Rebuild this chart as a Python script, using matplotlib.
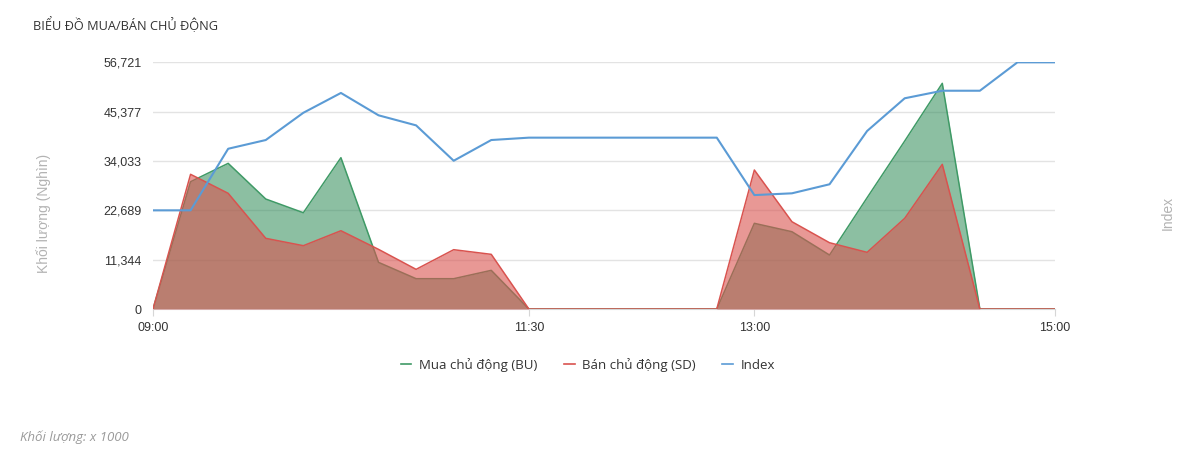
import numpy as np
import matplotlib
matplotlib.use('Agg')
import matplotlib.pyplot as plt
from matplotlib.ticker import FixedLocator

# data (volume in thousands, 15-minute buckets)
times = ['09:00', '09:15', '09:30', '09:45', '10:00', '10:15', '10:30', '10:45',
         '11:00', '11:15', '11:30', '11:45', '12:00', '12:15', '12:30', '12:45',
         '13:00', '13:15', '13:30', '13:45', '14:00', '14:15', '14:30', '14:45', '15:00']
buy_active = [0, 29270, 33490, 25290, 22140, 34790, 10730, 6970,
              6970, 8890, 0, 0, 0, 0, 0, 0,
              19700, 17770, 12410, 25590, 38620, 51890, 0, 0, 0]
sell_active = [0, 30970, 26600, 16250, 14560, 18000, 13720, 9120,
               13640, 12570, 0, 0, 0, 0, 0, 0,
               31960, 20070, 15240, 13030, 20850, 33260, 0, 0, 0]
index_vals = [1240.00, 1240.00, 1244.16, 1244.75, 1246.59, 1247.93, 1246.42, 1245.74,
              1243.35, 1244.75, 1244.91, 1244.91, 1244.91, 1244.91, 1244.91, 1244.91,
              1241.03, 1241.15, 1241.76, 1245.36, 1247.57, 1248.08, 1248.08, 1250.00, 1250.00]
xtick_labels = ['09:00', '11:30', '13:00', '15:00']
ytick_vals = [0, 11344, 22689, 34033, 45377, 56721]
ytick_labels = ['0', '11,344', '22,689', '34,033', '45,377', '56,721']

def to_min(t):
    h, m = t.split(':')
    return int(h) * 60 + int(m) - 540

x = np.array([to_min(t) for t in times])

green = '#3f9a66'
red = '#d9534f'
blue = '#5b9bd5'
txt = '#333333'

plt.rcParams['font.family'] = ['Open Sans', 'DejaVu Sans']

fig = plt.figure(figsize=(12, 4.76), dpi=100)
ax = fig.add_axes([0.1275, 0.3508, 0.7517, 0.5183])

ax.fill_between(x, buy_active, 0, color='#2e8b57', alpha=0.55, lw=0, zorder=2)
ax.plot(x, buy_active, color=green, lw=1.1, zorder=3)
ax.fill_between(x, sell_active, 0, color=red, alpha=0.6, lw=0, zorder=4)
ax.plot(x, sell_active, color=red, lw=1.1, zorder=5)

ax.set_xlim(0, 360)
ax.set_ylim(0, ytick_vals[-1])
ax.yaxis.set_major_locator(FixedLocator(ytick_vals))
ax.set_yticklabels(ytick_labels)
ax.set_xticks([to_min(t) for t in xtick_labels])
ax.set_xticklabels(xtick_labels)
ax.grid(axis='y', color='#e3e3e3', lw=1, zorder=0)
ax.set_axisbelow(True)
for s in ['top', 'right', 'left']:
    ax.spines[s].set_visible(False)
ax.spines['bottom'].set_color('#d6d6d6')
ax.tick_params(axis='y', length=0, pad=8, labelsize=9, labelcolor=txt,
               labelfontfamily='Liberation Sans')
ax.tick_params(axis='x', length=5, color='#d6d6d6', pad=4, labelsize=9, labelcolor=txt,
               labelfontfamily='Liberation Sans')

ax2 = ax.twinx()
imin, imax = min(index_vals), max(index_vals)
span = (imax - imin) / 0.6
ax2.set_ylim(imax - span, imax)
ax2.plot(x, index_vals, color=blue, lw=1.5, zorder=6)
ax2.set_yticks([])
for s in ax2.spines.values():
    s.set_visible(False)

# axis titles
fig.text(44 / 1200, 1 - 213 / 476, 'Khối lượng (Nghìn)', rotation=90, fontsize=10,
         color='#b3b3b3', ha='center', va='center', family='Liberation Sans')
fig.text(1168 / 1200, 1 - 213 / 476, 'Index', rotation=90, fontsize=10,
         color='#b3b3b3', ha='center', va='center', family='Liberation Sans')

fig.text(33 / 1200, 1 - 25 / 476, 'BIỂU ĐỒ MUA/BÁN CHỦ ĐỘNG', fontsize=9.2,
         color=txt, va='center', ha='left')

handles = [plt.Line2D([], [], color=green, lw=1.2),
           plt.Line2D([], [], color=red, lw=1.2),
           plt.Line2D([], [], color=blue, lw=1.2)]
fig.legend(handles, ['Mua chủ động (BU)', 'Bán chủ động (SD)', 'Index'],
           loc='center', bbox_to_anchor=(588 / 1200, 1 - 365 / 476), ncol=3,
           frameon=False, fontsize=9.5, handlelength=0.8, columnspacing=2.0,
           handletextpad=0.6, labelcolor=txt)

fig.text(20 / 1200, 1 - 437 / 476, 'Khối lượng: x 1000', fontsize=9.5,
         color='#9a9a9a', style='italic', va='center', ha='left')

fig.savefig('out.png', dpi=100, facecolor='white')
